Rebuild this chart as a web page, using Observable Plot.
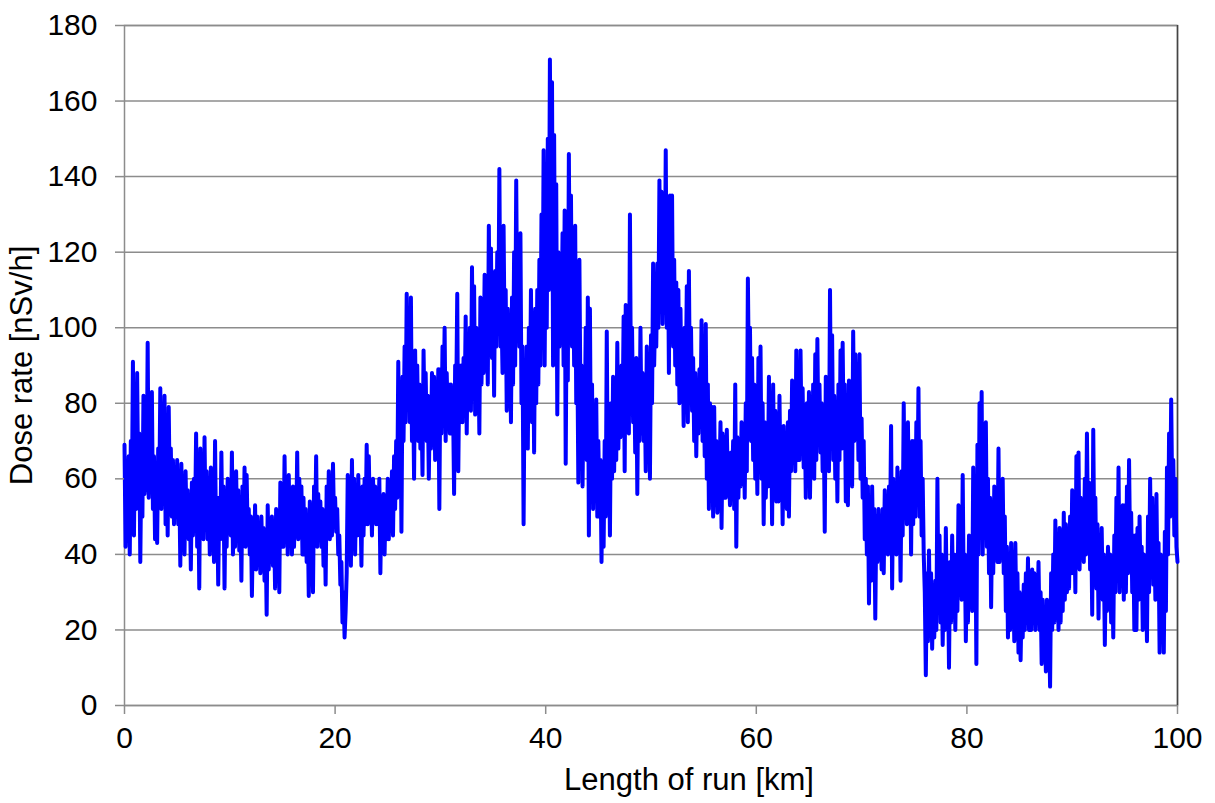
<!DOCTYPE html>
<html>
<head>
<meta charset="utf-8">
<script src="https://cdn.jsdelivr.net/npm/d3@7"></script>
<script src="https://cdn.jsdelivr.net/npm/@observablehq/plot@0.6"></script>
<style>
  html, body { margin: 0; padding: 0; background: #ffffff; }
  #chart { width: 1215px; height: 803px; }
</style>
</head>
<body>
<div id="chart"></div>
<script>
// Sampling step along the run (km); one row below = one km (10 readings, nSv/h)
const stepKm = 0.1;
const doseRate = [
  69, 42, 62, 52, 66, 40, 70, 55, 91, 45,
  75, 52, 88, 58, 72, 38, 65, 50, 82, 56,
  78, 57, 96, 55, 70, 60, 83, 52, 66, 44,
  64, 43, 68, 55, 84, 52, 72, 58, 82, 48,
  70, 45, 79, 55, 68, 50, 65, 48, 62, 50,
  65, 48, 60, 37, 64, 45, 58, 40, 62, 47,
  57, 44, 55, 36, 59, 45, 60, 48, 72, 42,
  60, 31, 68, 45, 58, 44, 71, 47, 62, 44,
  58, 40, 63, 45, 56, 38, 70, 42, 55, 32,
  55, 44, 67, 45, 58, 31, 56, 42, 60, 46,
  58, 45, 67, 40, 55, 42, 62, 45, 57, 41,
  55, 33, 58, 44, 63, 42, 61, 45, 52, 40,
  50, 29, 48, 38, 53, 36, 50, 40, 48, 35,
  50, 38, 47, 33, 45, 24, 53, 36, 49, 38,
  50, 37, 48, 31, 52, 40, 50, 30, 59, 42,
  55, 42, 66, 45, 58, 40, 61, 44, 56, 40,
  58, 42, 55, 45, 67, 44, 60, 45, 58, 40,
  55, 40, 52, 38, 50, 29, 54, 42, 50, 30,
  58, 45, 66, 42, 56, 44, 54, 42, 52, 37,
  50, 32, 58, 45, 62, 44, 55, 45, 64, 48,
  55, 46, 52, 40, 45, 32, 38, 22, 30, 18,
  25, 35, 61, 40, 58, 37, 65, 45, 60, 40,
  58, 45, 61, 48, 55, 37, 58, 45, 60, 48,
  69, 48, 66, 50, 58, 45, 60, 50, 58, 48,
  56, 48, 60, 35, 54, 45, 56, 40, 55, 44,
  60, 44, 58, 48, 62, 45, 66, 52, 70, 55,
  91, 60, 80, 46, 87, 70, 95, 75, 109, 80,
  100, 75, 108, 70, 85, 60, 94, 72, 90, 70,
  85, 68, 80, 61, 94, 75, 88, 70, 82, 60,
  80, 68, 88, 72, 87, 65, 85, 70, 89, 52,
  89, 72, 95, 78, 100, 70, 88, 75, 85, 72,
  85, 72, 80, 56, 90, 80, 109, 62, 90, 75,
  90, 75, 92, 78, 103, 72, 95, 80, 100, 78,
  116, 85, 111, 77, 100, 82, 95, 72, 108, 85,
  100, 88, 114, 90, 105, 85, 127, 95, 121, 92,
  110, 82, 115, 95, 120, 100, 142, 95, 105, 88,
  127, 95, 110, 78, 105, 88, 100, 75, 108, 85,
  120, 90, 139, 100, 110, 95, 125, 80, 95, 48,
  88, 70, 95, 68, 100, 80, 110, 75, 100, 67,
  105, 80, 110, 85, 118, 90, 130, 95, 147, 90,
  130, 100, 150, 110, 171, 120, 165, 90, 151, 100,
  138, 77, 120, 95, 115, 100, 125, 90, 131, 64,
  110, 86, 146, 100, 135, 95, 120, 90, 127, 80,
  95, 59, 118, 80, 90, 58, 85, 70, 100, 65,
  108, 45, 105, 60, 85, 52, 75, 55, 81, 50,
  70, 50, 65, 38, 63, 42, 70, 50, 99, 55,
  75, 45, 80, 60, 87, 62, 85, 65, 96, 68,
  85, 71, 90, 75, 103, 62, 106, 75, 95, 72,
  130, 80, 100, 75, 90, 67, 92, 56, 88, 70,
  100, 72, 88, 70, 85, 62, 95, 70, 90, 60,
  98, 80, 117, 90, 105, 95, 117, 100, 139, 105,
  136, 101, 125, 105, 147, 100, 130, 88, 135, 100,
  135, 95, 118, 90, 112, 85, 110, 80, 105, 82,
  98, 74, 100, 85, 111, 75, 115, 80, 100, 78,
  92, 70, 88, 66, 85, 72, 89, 75, 102, 70,
  88, 66, 101, 60, 85, 52, 80, 55, 79, 50,
  79, 55, 70, 51, 68, 60, 75, 47, 72, 55,
  71, 55, 73, 58, 65, 53, 67, 58, 70, 52,
  85, 42, 71, 55, 68, 58, 75, 60, 72, 55,
  80, 62, 113, 85, 100, 70, 92, 65, 85, 60,
  75, 56, 92, 65, 95, 60, 80, 48, 75, 55,
  67, 58, 87, 60, 75, 48, 85, 60, 78, 54,
  70, 54, 82, 60, 72, 48, 74, 58, 70, 52,
  75, 50, 78, 62, 86, 65, 78, 62, 94, 65,
  85, 65, 94, 70, 84, 63, 78, 55, 80, 62,
  83, 55, 78, 62, 85, 60, 93, 65, 97, 70,
  85, 67, 80, 62, 75, 46, 87, 65, 80, 62,
  110, 70, 98, 65, 82, 60, 78, 54, 85, 65,
  94, 68, 96, 70, 85, 54, 80, 53, 86, 62,
  85, 58, 99, 70, 93, 72, 88, 65, 93, 60,
  76, 55, 70, 44, 60, 40, 58, 27, 52, 33,
  58, 40, 52, 23, 50, 38, 52, 40, 50, 36,
  52, 35, 57, 42, 55, 40, 58, 45, 74, 31,
  60, 42, 55, 40, 63, 45, 58, 33, 62, 45,
  80, 50, 65, 48, 75, 52, 68, 40, 70, 48,
  70, 50, 75, 55, 84, 50, 70, 45, 60, 40,
  30, 8, 35, 17, 41, 20, 35, 15, 30, 18,
  33, 20, 60, 25, 45, 22, 40, 16, 35, 20,
  47, 25, 35, 10, 38, 22, 45, 25, 40, 20,
  38, 25, 53, 30, 45, 28, 61, 30, 40, 17,
  38, 22, 45, 28, 40, 25, 63, 30, 50, 11,
  69, 40, 80, 45, 83, 40, 70, 45, 75, 42,
  60, 35, 55, 26, 50, 35, 58, 40, 55, 38,
  68, 38, 55, 40, 60, 35, 50, 25, 42, 18,
  35, 20, 43, 25, 35, 17, 43, 22, 35, 14,
  30, 12, 28, 18, 32, 20, 35, 22, 39, 20,
  30, 20, 36, 22, 35, 20, 32, 22, 38, 20,
  30, 11, 28, 15, 25, 9, 28, 15, 22, 5,
  35, 20, 40, 22, 49, 25, 38, 20, 47, 22,
  40, 25, 51, 28, 48, 30, 45, 31, 50, 35,
  57, 35, 50, 30, 66, 40, 67, 36, 55, 40,
  50, 38, 60, 40, 72, 45, 59, 36, 50, 24,
  73, 40, 55, 31, 48, 23, 45, 30, 47, 28,
  40, 16, 39, 25, 42, 28, 40, 22, 38, 18,
  45, 30, 55, 35, 63, 30, 50, 32, 53, 28,
  53, 30, 58, 35, 65, 40, 51, 30, 45, 20,
  45, 20, 47, 28, 50, 30, 42, 20, 40, 22,
  37, 17, 50, 30, 60, 35, 55, 32, 45, 28,
  56, 30, 43, 14, 40, 20, 36, 14, 46, 25,
  63, 40, 72, 50, 81, 55, 65, 45, 60, 42,
  38
];
const xTicks = [0, 20, 40, 60, 80, 100];
const yTicks = [0, 20, 40, 60, 80, 100, 120, 140, 160, 180];
const xLabel = "Length of run [km]";
const yLabel = "Dose rate [nSv/h]";

const chart = Plot.plot({
  width: 1215,
  height: 803,
  marginLeft: 124,
  marginRight: 38,
  marginTop: 25,
  marginBottom: 98,
  style: { fontFamily: "'Liberation Sans', Arial, sans-serif", fontSize: "30px", color: "#000", background: "#fff" },
  x: { domain: [0, 100] },
  y: { domain: [0, 180] },
  marks: [
    Plot.gridY(yTicks, { stroke: "#8c8c8c", strokeOpacity: 1, strokeWidth: 1.5 }),
    Plot.frame({ stroke: "#8c8c8c", strokeWidth: 1.5 }),
    Plot.ruleX([100], { stroke: "#444", strokeWidth: 1.5 }),
    Plot.lineY(doseRate, {
      x: (d, i) => i * stepKm,
      y: d => d,
      stroke: "#0000ff",
      strokeWidth: 4,
      strokeLinejoin: "round"
    }),
    Plot.axisX(xTicks, {
      tickSize: 9, tickPadding: 12, stroke: "#8c8c8c", strokeWidth: 1.5, fill: "#000",
      fontSize: 30, label: null
    }),
    Plot.axisY(yTicks, {
      tickSize: 9, tickPadding: 18, stroke: "#8c8c8c", strokeWidth: 1.5, fill: "#000",
      fontSize: 30, label: null
    }),
    Plot.text([xLabel], {
      frameAnchor: "bottom", dx: 38, dy: 84, fontSize: 31, fill: "#000", textAnchor: "middle", lineAnchor: "bottom"
    }),
    Plot.text([yLabel], {
      frameAnchor: "left", dx: -102, rotate: -90, fontSize: 31, fill: "#000", textAnchor: "middle", lineAnchor: "middle"
    })
  ]
});
document.getElementById("chart").appendChild(chart);
</script>
</body>
</html>
